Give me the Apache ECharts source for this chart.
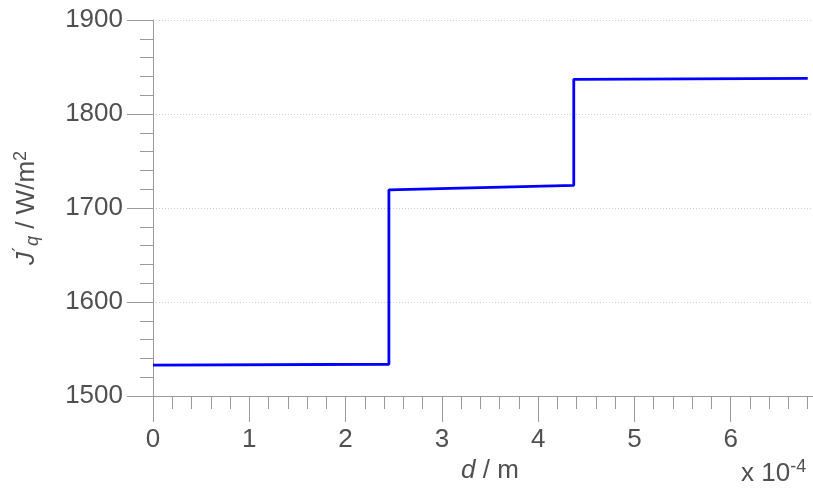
<!DOCTYPE html>
<html>
<head>
<meta charset="utf-8">
<style>
  html, body { margin: 0; padding: 0; background: #fff; overflow: hidden; }
  #wrap { width: 813px; height: 492px; overflow: hidden; }
  /* canvas runs a little past the right edge so the axis can end at 7 */
  #chart { width: 827px; height: 492px; }
</style>
<script src="https://cdn.jsdelivr.net/npm/echarts@6/dist/echarts.min.js"></script>
</head>
<body>
<div id="wrap"><div id="chart"></div></div>
<script>
// Heat flux profile across the layered wall (d in units of 1e-4 m)
const dValues = [0, 2.45, 2.45, 4.37, 4.37, 6.8];
const fluxValues = [1532.8, 1533.8, 1719.2, 1724.0, 1836.9, 1838.0];
const yTicks = { min: 1500, max: 1900, step: 100 };
const xTicks = { min: 0, max: 7, step: 1 };

const FONT = 'Liberation Sans, Arial, sans-serif';
const TEXT = '#505050';
const AXIS = '#9a9a9a';
const FS = 26;
const FS_SMALL = 18;

const chart = echarts.init(document.getElementById('chart'), null, { renderer: 'canvas' });

chart.setOption({
  animation: false,
  backgroundColor: '#ffffff',
  grid: { left: 153, right: 0, top: 20, bottom: 96, containLabel: false },
  xAxis: {
    type: 'value',
    min: xTicks.min,
    max: xTicks.max,
    interval: xTicks.step,
    name: '{i|d} / m',
    nameLocation: 'middle',
    nameGap: 52,
    nameTextStyle: {
      color: TEXT, fontFamily: FONT, fontSize: FS,
      rich: { i: { fontStyle: 'italic', color: TEXT, fontFamily: FONT, fontSize: FS } }
    },
    axisLine: { show: true, onZero: false, lineStyle: { color: AXIS, width: 1 } },
    axisTick: { show: true, inside: false, length: 26, lineStyle: { color: AXIS } },
    minorTick: { show: true, splitNumber: 5, length: 13, lineStyle: { color: AXIS } },
    splitLine: { show: false },
    axisLabel: {
      color: TEXT, fontFamily: FONT, fontSize: FS, margin: 31,
      showMaxLabel: false,
      formatter: v => String(Math.round(v))
    }
  },
  yAxis: {
    type: 'value',
    min: yTicks.min,
    max: yTicks.max,
    interval: yTicks.step,
    name: '{i|J}{sup|´}{sub|q}{t| / W/m}{sup|2}',
    nameLocation: 'middle',
    nameRotate: 90,
    nameGap: 111,
    nameTextStyle: {
      color: TEXT, fontFamily: FONT, fontSize: FS,
      rich: {
        i: { fontStyle: 'italic', color: TEXT, fontFamily: FONT, fontSize: FS },
        t: { color: TEXT, fontFamily: FONT, fontSize: FS },
        sup: { color: TEXT, fontFamily: FONT, fontSize: FS_SMALL, verticalAlign: 'top', padding: [0, 0, 12, 0] },
        sub: { fontStyle: 'italic', color: TEXT, fontFamily: FONT, fontSize: FS_SMALL, verticalAlign: 'bottom', padding: [10, 0, 0, 0] }
      }
    },
    axisLine: { show: true, lineStyle: { color: AXIS, width: 1 } },
    axisTick: { show: true, inside: false, length: 26, lineStyle: { color: AXIS } },
    minorTick: { show: true, splitNumber: 5, length: 13, lineStyle: { color: AXIS } },
    splitLine: { show: true, lineStyle: { color: '#cfcfcf', type: [1, 2], width: 1 } },
    axisLabel: {
      color: TEXT, fontFamily: FONT, fontSize: FS, margin: 30,
      formatter: v => String(Math.round(v))
    }
  },
  graphic: [{
    type: 'text',
    left: 741,
    bottom: 5,
    style: {
      text: '{t|x 10}{sup|-4}',
      fill: TEXT,
      font: FS + 'px ' + FONT,
      rich: {
        t: { fill: TEXT, fontFamily: FONT, fontSize: FS },
        sup: { fill: TEXT, fontFamily: FONT, fontSize: FS_SMALL, verticalAlign: 'top', padding: [0, 0, 14, 0] }
      }
    }
  }],
  series: [{
    type: 'line',
    data: dValues.map((d, i) => [d, fluxValues[i]]),
    showSymbol: false,
    symbol: 'none',
    lineStyle: { color: '#0000ff', width: 2.8 },
    clip: true
  }]
});
</script>
</body>
</html>
